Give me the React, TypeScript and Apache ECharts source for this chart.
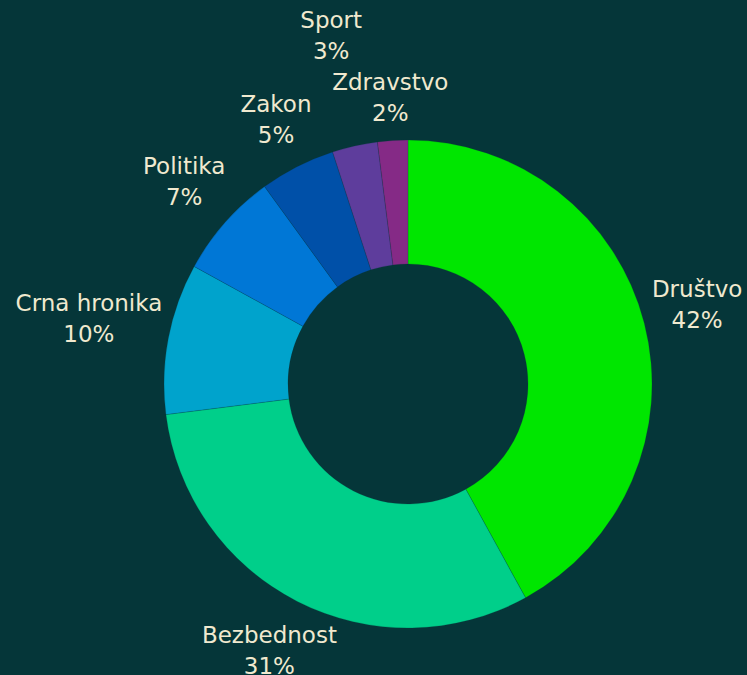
import React, { useEffect, useRef } from "react";
import * as echarts from "echarts";

const categories = ["Društvo", "Bezbednost", "Crna hronika", "Politika", "Zakon", "Sport", "Zdravstvo"];
const values = [42, 31, 10, 7, 5, 3, 2];
const colors = ["#00e600", "#00cf8a", "#00a3cc", "#0077d6", "#0050a8", "#5e3d9c", "#852a86"];

const W = 747;
const H = 675;
const CX = 408;
const CY = 384;
const R_OUT = 244;
const R_IN = 120;
const FONT_SIZE = 23;
const LINE_H = 31;
const FONT_FAMILY = "'DejaVu Sans', sans-serif";
const GAP = 3;
const VSHIFT = 5;
const TEXT_COLOR = "#f0e9cf";
const BG = "#053639";

type Box = { dx: number; dy: number; hw: number; hh: number; r: number };

function computeLabelPositions() {
  const total = values.reduce((a, b) => a + b, 0);
  const canvas = document.createElement("canvas");
  const ctx = canvas.getContext("2d")!;
  ctx.font = `${FONT_SIZE}px ${FONT_FAMILY}`;
  let acc = 0;
  const boxes: Box[] = values.map((v, i) => {
    const mid = ((acc + v / 2) / total) * 2 * Math.PI;
    acc += v;
    const dx = Math.sin(mid);
    const dy = -Math.cos(mid);
    const w = Math.max(ctx.measureText(categories[i]).width, ctx.measureText(`${v}%`).width);
    const hw = w / 2;
    const hh = LINE_H;
    return { dx, dy, hw, hh, r: R_OUT + GAP + Math.abs(dx) * hw + Math.abs(dy) * hh };
  });
  const overlap = (a: Box, b: Box) => {
    const ax = CX + a.dx * a.r, ay = CY + a.dy * a.r;
    const bx = CX + b.dx * b.r, by = CY + b.dy * b.r;
    return Math.abs(ax - bx) < a.hw + b.hw && Math.abs(ay - by) < a.hh + b.hh;
  };
  const placed: Box[] = [];
  for (let i = boxes.length - 1; i >= 0; i--) {
    const b = boxes[i];
    let guard = 0;
    while (placed.some((p) => overlap(p, b)) && guard++ < 600) b.r += 1;
    placed.push(b);
  }
  return boxes.map((b) => ({ x: CX + b.dx * b.r, y: CY + b.dy * b.r - VSHIFT }));
}

export default function App() {
  const ref = useRef<HTMLDivElement>(null);
  useEffect(() => {
    document.body.style.margin = "0";
    if (!ref.current) return;
    const chart = echarts.init(ref.current, null, { renderer: "svg" });
    const positions = computeLabelPositions();
    chart.setOption({
      animation: false,
      backgroundColor: BG,
      series: [
        {
          type: "pie",
          center: [CX, CY],
          radius: [R_IN, R_OUT],
          startAngle: 90,
          clockwise: true,
          silent: true,
          data: categories.map((name, i) => ({
            name,
            value: values[i],
            itemStyle: { color: colors[i] },
          })),
          itemStyle: { borderColor: "rgba(5,54,57,0.35)", borderWidth: 0.6 },
          label: {
            show: true,
            position: "outside",
            formatter: (p: any) => `${p.name}\n${p.value}%`,
            color: TEXT_COLOR,
            fontFamily: FONT_FAMILY,
            fontSize: FONT_SIZE,
            lineHeight: LINE_H,
            align: "center",
            overflow: "none",
            alignTo: "none",
            edgeDistance: 0,
            bleedMargin: 0,
          },
          labelLine: { show: false },
          labelLayout: (params: any) => {
            const pos = positions[params.dataIndex];
            return { x: pos.x, y: pos.y, align: "center", verticalAlign: "middle" };
          },
        },
      ],
    });
    return () => chart.dispose();
  }, []);
  return <div ref={ref} style={{ width: W, height: H }} />;
}
